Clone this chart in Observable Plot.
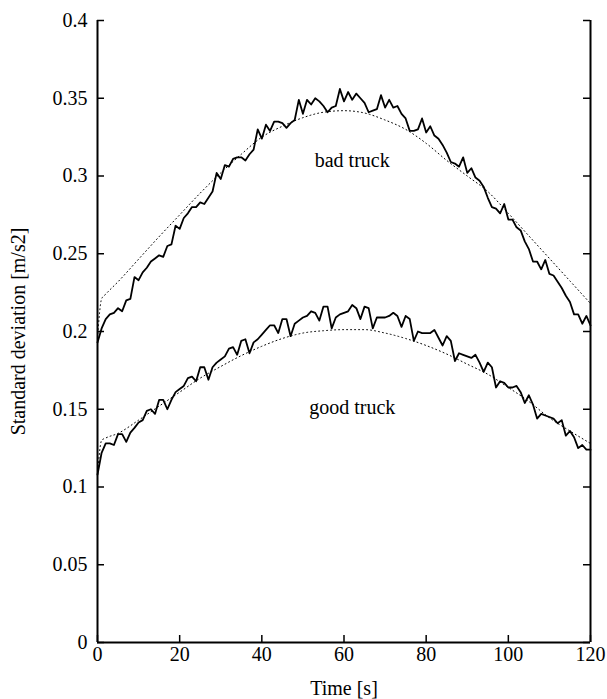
<!DOCTYPE html>
<html>
<head>
<meta charset="utf-8">
<script src="https://cdn.jsdelivr.net/npm/d3@7"></script>
<script src="https://cdn.jsdelivr.net/npm/@observablehq/plot@0.6"></script>
<style>
  html, body { margin: 0; padding: 0; background: #fff; }
  #chart { width: 607px; height: 699px; }
</style>
</head>
<body>
<div id="chart"></div>
<script>
const time = [0,1,2,3,4,5,6,7,8,9,10,11,12,13,14,15,16,17,18,19,20,21,22,23,24,25,26,27,28,29,30,
  31,32,33,34,35,36,37,38,39,40,41,42,43,44,45,46,47,48,49,50,51,52,53,54,55,56,57,58,59,60,
  61,62,63,64,65,66,67,68,69,70,71,72,73,74,75,76,77,78,79,80,81,82,83,84,85,86,87,88,89,90,
  91,92,93,94,95,96,97,98,99,100,101,102,103,104,105,106,107,108,109,110,111,112,113,114,115,116,117,118,119,120];

const badTruck = [0.193,0.202,0.208,0.211,0.212,0.215,0.213,0.220,0.221,0.235,
  0.233,0.238,0.241,0.245,0.247,0.249,0.248,0.255,0.256,0.268,
  0.266,0.273,0.276,0.280,0.280,0.283,0.282,0.286,0.290,0.302,
  0.298,0.307,0.306,0.311,0.312,0.312,0.310,0.314,0.317,0.330,
  0.324,0.333,0.329,0.335,0.335,0.334,0.331,0.334,0.336,0.349,
  0.340,0.349,0.346,0.350,0.348,0.345,0.341,0.344,0.345,0.356,
  0.348,0.354,0.349,0.353,0.350,0.347,0.341,0.342,0.343,0.352,
  0.344,0.349,0.344,0.345,0.340,0.337,0.329,0.329,0.330,0.337,
  0.328,0.332,0.326,0.324,0.320,0.315,0.309,0.308,0.306,0.312,
  0.302,0.305,0.299,0.297,0.293,0.286,0.280,0.279,0.276,0.282,
  0.272,0.272,0.267,0.265,0.258,0.253,0.245,0.245,0.240,0.246,
  0.237,0.236,0.232,0.228,0.223,0.219,0.211,0.211,0.205,0.210,
  0.204];

const goodTruck = [0.108,0.122,0.128,0.128,0.127,0.134,0.134,0.129,0.135,0.138,
  0.1415,0.143,0.149,0.150,0.147,0.156,0.156,0.150,0.156,0.161,
  0.163,0.165,0.170,0.171,0.168,0.177,0.177,0.169,0.177,0.180,
  0.182,0.184,0.189,0.190,0.185,0.194,0.195,0.186,0.193,0.195,
  0.198,0.201,0.204,0.204,0.199,0.208,0.208,0.197,0.205,0.207,
  0.209,0.210,0.213,0.212,0.207,0.216,0.216,0.202,0.209,0.211,
  0.212,0.213,0.217,0.215,0.208,0.216,0.215,0.202,0.209,0.209,
  0.209,0.210,0.212,0.210,0.203,0.210,0.208,0.194,0.200,0.199,
  0.199,0.199,0.201,0.196,0.191,0.197,0.194,0.181,0.186,0.185,
  0.184,0.183,0.185,0.180,0.174,0.180,0.177,0.164,0.168,0.167,
  0.164,0.164,0.165,0.161,0.154,0.159,0.153,0.144,0.147,0.146,
  0.145,0.144,0.141,0.143,0.133,0.136,0.132,0.125,0.127,0.124,
  0.124];

const fitTime = [0,1,2,5,10,15,20,25,30,35,40,45,50,55,60,65,70,75,80,85,90,95,100,105,110,115,120];
const badFit  = [0.196,0.221,0.224,0.232,0.2465,0.261,0.275,0.289,0.302,0.314,0.325,0.332,0.3375,0.341,0.342,0.3405,0.336,0.330,0.321,0.310,0.300,0.290,0.276,0.2615,0.247,0.2325,0.218];
const goodFit = [0.108,0.130,0.1315,0.1345,0.143,0.152,0.161,0.170,0.1775,0.1845,0.1905,0.1955,0.199,0.2005,0.2012,0.2012,0.199,0.1955,0.191,0.1855,0.179,0.1725,0.164,0.155,0.1445,0.136,0.128];

const labelText = ["bad truck", "good truck"];
const labelX = [62, 62];
const labelY = [0.310, 0.151];

const xTicks = [0,20,40,60,80,100,120];
const yTicks = [0,0.05,0.1,0.15,0.2,0.25,0.3,0.35,0.4];

const xTitle = "Time [s]";
const yTitle = "Standard deviation [m/s2]";

const badRows = time.map((t, i) => ({t, v: badTruck[i]}));
const goodRows = time.map((t, i) => ({t, v: goodTruck[i]}));
const badFitRows = fitTime.map((t, i) => ({t, v: badFit[i]}));
const goodFitRows = fitTime.map((t, i) => ({t, v: goodFit[i]}));
const labelRows = labelText.map((s, i) => ({s, x: labelX[i], y: labelY[i]}));

const W = 607, H = 699, mL = 97, mR = 17, mT = 20, mB = 57;
const frameW = W - mL - mR, frameH = H - mT - mB;
const tickLen = 7;
const FONT = "'Liberation Serif', 'Times New Roman', serif";

const chart = Plot.plot({
  width: W, height: H,
  marginLeft: mL, marginRight: mR, marginTop: mT, marginBottom: mB,
  style: {fontFamily: FONT, fontSize: "20px", color: "black", background: "white", overflow: "visible"},
  x: {domain: [0, 120]},
  y: {domain: [0, 0.4]},
  marks: [
    Plot.axisX({ticks: xTicks, tickSize: 0, tickPadding: 4, tickFormat: d => String(d), fontSize: 20, label: null}),
    Plot.axisY({ticks: yTicks, tickSize: 0, tickPadding: 10, tickFormat: d => String(+d.toFixed(2)), fontSize: 20, label: null}),
    // inward ticks
    Plot.ruleX(xTicks, {x: d => d, insetTop: frameH - tickLen, stroke: "black", strokeWidth: 1.5}),
    Plot.ruleY(yTicks, {y: d => d, insetRight: frameW - tickLen, stroke: "black", strokeWidth: 1.5}),
    Plot.ruleY(yTicks, {y: d => d, insetLeft: frameW - tickLen, stroke: "black", strokeWidth: 1.5}),
    // frame lines (left, right, bottom)
    Plot.ruleX([0, 120], {stroke: "black", strokeWidth: 2}),
    Plot.ruleY([0], {stroke: "black", strokeWidth: 2}),
    // fits
    Plot.line(badFitRows, {x: "t", y: "v", stroke: "black", strokeWidth: 1, strokeDasharray: "1,3", curve: "monotone-x"}),
    Plot.line(goodFitRows, {x: "t", y: "v", stroke: "black", strokeWidth: 1, strokeDasharray: "1,3", curve: "monotone-x"}),
    // measured
    Plot.line(badRows, {x: "t", y: "v", stroke: "black", strokeWidth: 1.8}),
    Plot.line(goodRows, {x: "t", y: "v", stroke: "black", strokeWidth: 1.8}),
    // labels
    Plot.text(labelRows, {x: "x", y: "y", text: "s", fontSize: 20, textAnchor: "middle", lineAnchor: "middle", fill: "black"}),
    Plot.text([xTitle], {frameAnchor: "bottom", dy: 46, text: d => d, fontSize: 20, textAnchor: "middle", lineAnchor: "middle", fill: "black"}),
    Plot.text([yTitle], {frameAnchor: "left", dx: -79, rotate: -90, text: d => d, fontSize: 20, textAnchor: "middle", lineAnchor: "middle", fill: "black"})
  ]
});
document.getElementById("chart").appendChild(chart);
</script>
</body>
</html>
